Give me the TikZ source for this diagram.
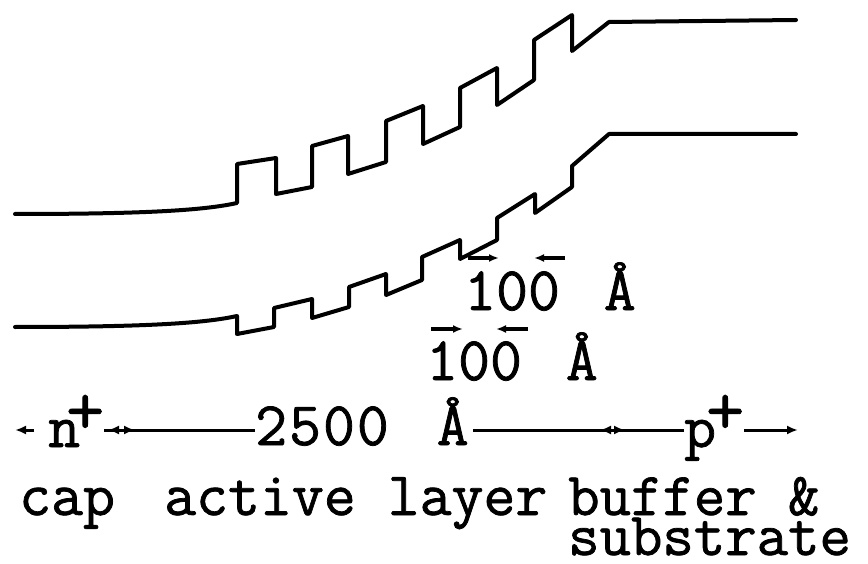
\documentclass[tikz,border=0pt]{standalone}
\usepackage{fontspec}
\setmonofont{Latin Modern Mono}[FakeBold=1.2]
\usetikzlibrary{arrows.meta}
\begin{document}
\begin{tikzpicture}[x=1pt,y=-1pt,
  band/.style={line width=4pt, line join=round, line cap=round},
  dim/.style={line width=3pt, -{Latex[length=11pt,width=9pt]}},
  tick/.style={line width=3.4pt, -{Latex[length=10pt,width=8pt]}},
  lab/.style={inner sep=0pt, anchor=base west, font=\fontsize{62}{62}\selectfont\ttfamily},
]
\useasboundingbox (0,0) rectangle (868,564);
% conduction band
\draw[band] (15,214) .. controls (150,214) and (205,210) .. (237,203)
  -- (237,164) -- (276,158) -- (276,194) -- (312,187) -- (312,146)
  -- (348,136) -- (348,174) -- (386,162) -- (386,121) -- (423,106)
  -- (423,144) -- (460,127) -- (460,88) -- (497,68) -- (497,105)
  -- (534,80) -- (534,40) -- (572,15) -- (572,51) -- (609,22) -- (796,20);
% valence band
\draw[band] (15,327) .. controls (150,327) and (205,323) .. (237,316)
  -- (237,334) -- (274,327) -- (274,308) -- (312,299) -- (312,318)
  -- (349,307) -- (349,287) -- (386,274) -- (386,295) -- (422,280)
  -- (422,257) -- (460,240) -- (460,259) -- (497,240) -- (497,218)
  -- (535,194) -- (535,213) -- (572,187) -- (572,166) -- (609,134) -- (796,134);
% labels
\node[lab] (ua) at (464,310) {100\kern12pt{} Å};
\node[lab] (la) at (426,380) {100\kern12pt{} Å};
\node[lab] (num) at (255,445) {2\kern2pt5\kern2pt0\kern2pt0\kern16pt{} Å};
\node[lab] (n) at (48,447) {n\kern-14pt\raisebox{13pt}{\fontsize{74}{74}\selectfont+}};
\node[lab] (p) at (684,447) {p\kern-10pt\raisebox{13pt}{\fontsize{74}{74}\selectfont+}};
\node[lab] (cap) at (19,515) {cap};
\node[lab] (act) at (164,515) {active layer};
\node[lab, align=left, font=\fontsize{61}{40}\selectfont\ttfamily] (buf) at (568,555) {buffer \&\\substrate};
% 100 A marks
\coordinate (u1s) at (468,258); \coordinate (u1e) at (499,258);
\coordinate (u2s) at (565,258); \coordinate (u2e) at (534,258);
\coordinate (l1s) at (431,329); \coordinate (l1e) at (463,329);
\coordinate (l2s) at (528,329); \coordinate (l2e) at (496,329);
\draw[tick] (u1s) -- (u1e);
\draw[tick] (u2s) -- (u2e);
\draw[tick] (l1s) -- (l1e);
\draw[tick] (l2s) -- (l2e);
% dimension line
\coordinate (e0) at (15,430);
\coordinate (j1a) at (108,430);
\coordinate (j1b) at (135,430);
\coordinate (j2b) at (600,430);
\coordinate (j2a) at (625,430);
\coordinate (e1) at (798,430);
\draw[dim] ([xshift=-14pt]n.west |- e0) -- (e0);
\draw[dim] (n.east |- e0) -- (j1b);
\draw[dim] (num.west |- e0) -- (j1a);
\draw[dim] ([xshift=4pt]num.east |- e0) -- (j2a);
\draw[dim] (p.west |- e0) -- (j2b);
\draw[dim] (p.east |- e0) -- (e1);
\end{tikzpicture}
\end{document}
